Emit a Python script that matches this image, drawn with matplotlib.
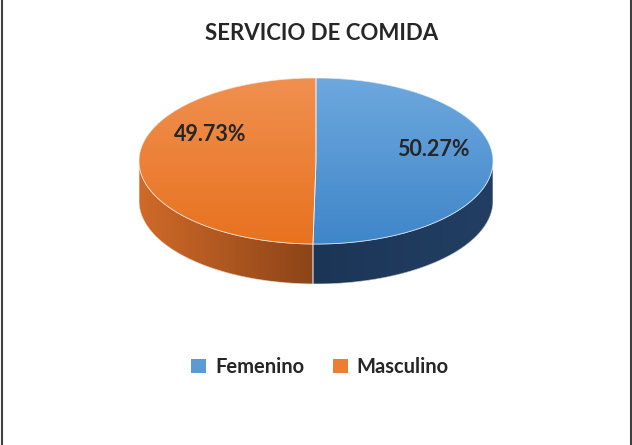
import numpy as np
import matplotlib
matplotlib.use("Agg")
import matplotlib.pyplot as plt
from matplotlib.patches import Polygon, Patch
from matplotlib.colors import LinearSegmentedColormap
from matplotlib.lines import Line2D

# ---- data ----
title = "SERVICIO DE COMIDA"
categories = ["Femenino", "Masculino"]
values = [50.27, 49.73]
label_texts = ["50.27%", "49.73%"]

# ---- style ----
top_colors = [("#6ea8de", "#3f86c9"), ("#f09050", "#e8721f")]
side_colors = [("#1b3556", "#223f63"), ("#d06a28", "#8c4418")]
legend_colors = ["#5b9bd5", "#ed7d31"]
label_offsets = [(0.03, 0.065), (0.03, 0.15)]
FONT = "Lato"

W, H, DPI = 632, 445, 100
fig = plt.figure(figsize=(W / DPI, H / DPI), dpi=DPI)

# geometry (pixels)
cx, cy, s = 316.0, 161.0, 177.0
b, h = 0.469, 0.226
pad = 0.06
x0, x1 = -1 - pad, 1 + pad
y0, y1 = -b - h - pad, b + pad
ax = fig.add_axes([(cx + x0 * s) / W, 1 - (cy + (-y0) * s) / H,
                   (x1 - x0) * s / W, (y1 - y0) * s / H])
ax.set_xlim(x0, x1)
ax.set_ylim(y0, y1)
ax.axis("off")


def grad_fill(poly_xy, c1, c2, direction, z):
    poly = Polygon(poly_xy, closed=True, facecolor=c1, edgecolor="none", zorder=z)
    ax.add_patch(poly)
    cmap = LinearSegmentedColormap.from_list("g", [c1, c2])
    xs, ys = poly_xy[:, 0], poly_xy[:, 1]
    if direction == "v":
        g = np.linspace(0, 1, 256).reshape(-1, 1)
    else:
        g = np.linspace(0, 1, 256).reshape(1, -1)
    ext = (xs.min(), xs.max(), ys.min(), ys.max())
    img = ax.imshow(g, cmap=cmap, extent=ext, origin="upper", aspect="auto",
                    zorder=z, interpolation="bilinear")
    img.set_clip_path(poly)
    edge = Polygon(poly_xy, closed=True, facecolor="none", edgecolor="white",
                   linewidth=0.6, alpha=0.7, zorder=z + 0.5)
    ax.add_patch(edge)


total = sum(values)
start = 90.0
angles = []
for v in values:
    sweep = v / total * 360.0
    angles.append((start - sweep, start))
    start -= sweep
ax.set_xlim(x0, x1)
ax.set_ylim(y0, y1)

# sides (front-visible part: angles in (-pi, 0))
for i, (a1, a2) in enumerate(angles):
    lo, hi = np.deg2rad(a1), np.deg2rad(a2)
    for shift in (0, -2 * np.pi, 2 * np.pi):
        l, u = max(lo + shift, -np.pi), min(hi + shift, 0)
        if u > l:
            t = np.linspace(l, u, 200)
            top = np.column_stack([np.cos(t), b * np.sin(t)])
            bot = np.column_stack([np.cos(t[::-1]), b * np.sin(t[::-1]) - h])
            c1, c2 = side_colors[i]
            grad_fill(np.vstack([top, bot]), c1, c2, "h", 2)

# tops
for i, (a1, a2) in enumerate(angles):
    t = np.linspace(np.deg2rad(a1), np.deg2rad(a2), 300)
    pts = np.column_stack([np.cos(t), b * np.sin(t)])
    pts = np.vstack([[0, 0], pts])
    c1, c2 = top_colors[i]
    grad_fill(pts, c1, c2, "v", 3)

# labels
for i, (a1, a2) in enumerate(angles):
    m = np.deg2rad((a1 + a2) / 2)
    r = 0.63
    lx = r * np.cos(m) + label_offsets[i][0]
    ly = r * b * np.sin(m) + label_offsets[i][1]
    ax.text(lx, ly, label_texts[i], ha="center", va="center", fontsize=15.5,
            fontweight="bold", color="#262626", family=FONT, zorder=5)

fig.text(322 / W, 1 - 33 / H, title, ha="center", va="center", fontsize=16,
         fontweight="bold", color="#262626", family=FONT)

handles = [Patch(facecolor=c, edgecolor="none") for c in legend_colors]
fig.legend(handles, categories, loc="center", bbox_to_anchor=(320 / W, 1 - 367 / H),
           ncol=2, frameon=False, handlelength=0.75, handleheight=0.75,
           handletextpad=0.45, columnspacing=1.4,
           prop={"family": FONT, "weight": "bold", "size": 14.5}, labelcolor="#262626")

for xp in (1.5 / W, 630.5 / W):
    fig.add_artist(Line2D([xp, xp], [0, 1], transform=fig.transFigure,
                          color="#404040", linewidth=1.5))

fig.savefig("out.png", dpi=DPI, facecolor="white")
